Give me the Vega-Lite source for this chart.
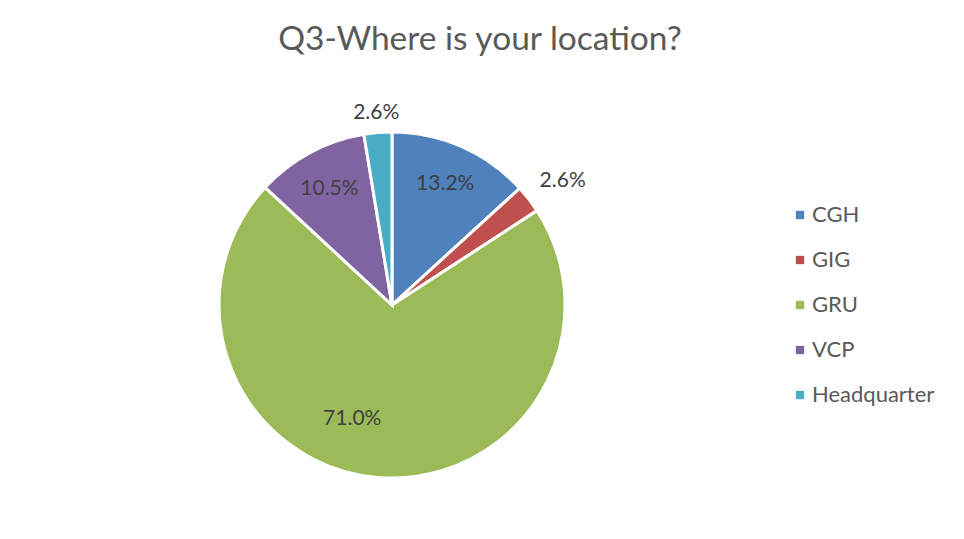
{
  "$schema": "https://vega.github.io/schema/vega-lite/v6.json",
  "autosize": "none",
  "width": 346,
  "height": 346,
  "padding": {"left": 219, "top": 132, "right": 399, "bottom": 61},
  "background": "white",
  "title": {
    "text": "Q3-Where is your location?",
    "anchor": "middle",
    "dx": 88,
    "offset": 0,
    "baseline": "alphabetic",
    "font": "Lato",
    "fontSize": 33.5,
    "fontWeight": "normal",
    "color": "#595959"
  },
  "data": {
    "values": [
      {"location": "CGH", "pct": 0.132, "order": 1},
      {"location": "GIG", "pct": 0.026, "order": 2},
      {"location": "GRU", "pct": 0.710, "order": 3},
      {"location": "VCP", "pct": 0.105, "order": 4},
      {"location": "Headquarter", "pct": 0.026, "order": 5}
    ]
  },
  "encoding": {
    "theta": {"field": "pct", "type": "quantitative", "stack": true},
    "order": {"field": "order", "type": "quantitative"}
  },
  "layer": [
    {
      "mark": {"type": "arc", "outerRadius": 173, "stroke": "white", "strokeWidth": 3},
      "encoding": {
        "color": {
          "field": "location",
          "type": "nominal",
          "scale": {
            "domain": ["CGH", "GIG", "GRU", "VCP", "Headquarter"],
            "range": ["#4F81BD", "#C0504D", "#9BBB59", "#8064A2", "#4BACC6"]
          },
          "legend": {
            "title": null,
            "orient": "none",
            "legendX": 570,
            "legendY": 72,
            "padding": 0,
            "symbolType": "square",
            "symbolSize": 70,
            "symbolStrokeWidth": 0,
            "labelFont": "Lato",
            "labelFontSize": 22,
            "labelColor": "#595959",
            "labelOffset": 1,
            "rowPadding": 23
          }
        }
      }
    },
    {
      "mark": {"type": "text", "radius": 132, "font": "Lato", "fontSize": 21, "color": "#404040"},
      "encoding": {
        "text": {
          "condition": {"test": "datum.pct > 0.05 && datum.location != 'GRU'", "field": "pct", "type": "quantitative", "format": ".1%"},
          "value": ""
        }
      }
    },
    {
      "mark": {"type": "text", "radius": 121, "thetaOffset": 0.25, "font": "Lato", "fontSize": 21, "color": "#404040"},
      "encoding": {
        "text": {
          "condition": {"test": "datum.location == 'GRU'", "field": "pct", "type": "quantitative", "format": ".1%"},
          "value": ""
        }
      }
    },
    {
      "mark": {"type": "text", "radius": 211, "thetaOffset": 0.03, "font": "Lato", "fontSize": 21, "color": "#404040"},
      "encoding": {
        "text": {
          "condition": {"test": "datum.location == 'GIG'", "field": "pct", "type": "quantitative", "format": ".1%"},
          "value": ""
        }
      }
    },
    {
      "mark": {"type": "text", "radius": 193, "font": "Lato", "fontSize": 21, "color": "#404040"},
      "encoding": {
        "text": {
          "condition": {"test": "datum.location == 'Headquarter'", "field": "pct", "type": "quantitative", "format": ".1%"},
          "value": ""
        }
      }
    }
  ],
  "config": {"view": {"stroke": null}}
}
